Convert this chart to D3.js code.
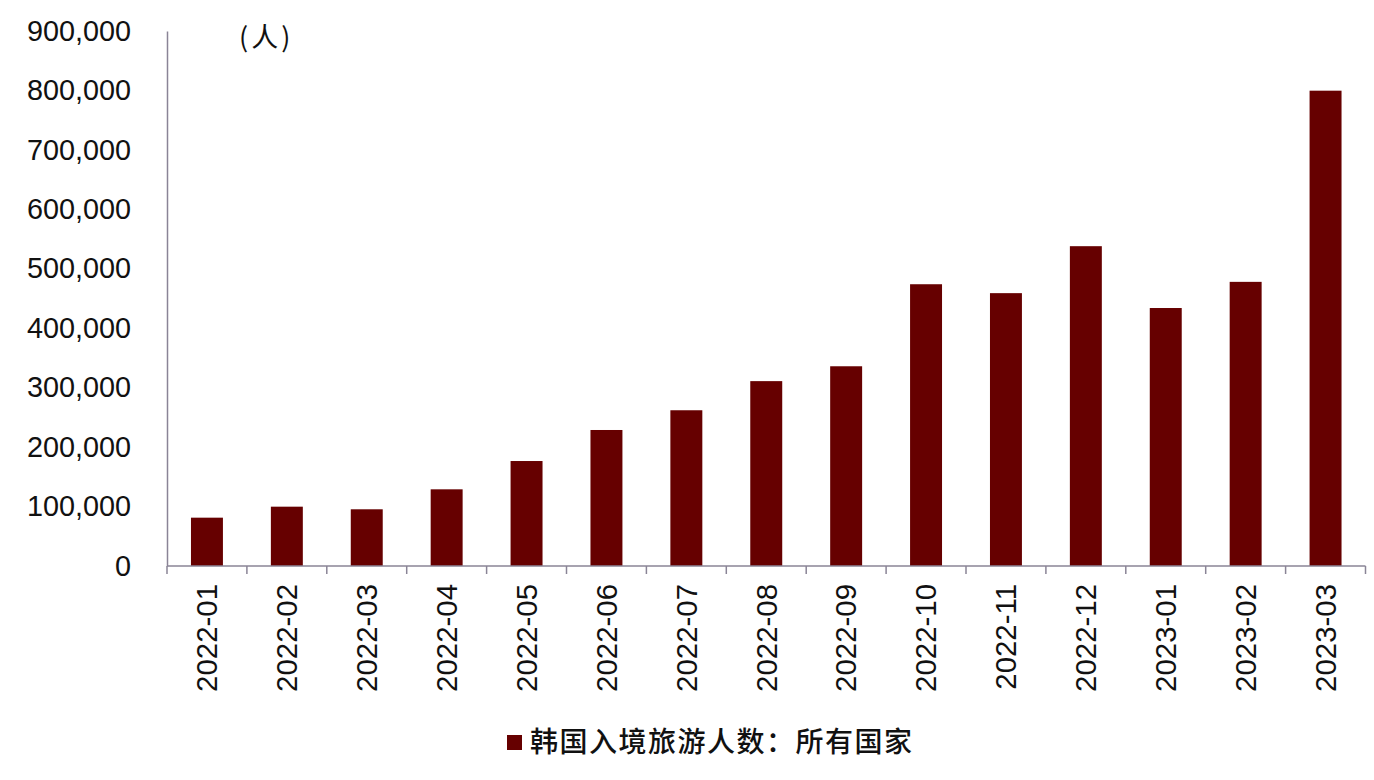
<!DOCTYPE html>
<html><head><meta charset="utf-8">
<script src="https://cdn.jsdelivr.net/npm/d3@7"></script>
<style>body{margin:0;background:#fff;}svg{display:block;}</style>
</head><body>
<svg id="c" width="1374" height="780"></svg>
<script>
const categories = ["2022-01","2022-02","2022-03","2022-04","2022-05","2022-06","2022-07","2022-08","2022-09","2022-10","2022-11","2022-12","2023-01","2023-02","2023-03"];
const visitors = [81300, 99800, 95400, 129000, 176600, 228800, 262000, 311000, 336000, 474000, 459000, 538000, 434000, 478000, 799600];
const yTicks = [0,100000,200000,300000,400000,500000,600000,700000,800000,900000];
const unitLabel = "(人)";
const seriesName = "韩国入境旅游人数：所有国家";

const svg = d3.select("#c");
const x = d3.scaleBand().domain(categories).range([167, 1365.5]).paddingInner(0.6).paddingOuter(0.3);
const y = d3.scaleLinear().domain([0, 900000]).range([566, 31]);
const axisColor = "#8a8496";
const font = "'Liberation Sans', Arial, sans-serif";

svg.append("g").selectAll("rect").data(visitors).join("rect")
  .attr("x", (d,i) => x(categories[i]))
  .attr("width", x.bandwidth())
  .attr("y", d => y(d))
  .attr("height", d => y(0) - y(d))
  .attr("fill", "#660000");

// y axis
const ya = svg.append("g").attr("transform","translate(167,0)")
  .call(d3.axisLeft(y).tickValues(yTicks).tickSize(0).tickPadding(36).tickFormat(d3.format(",")));
ya.select(".domain").attr("stroke", axisColor).attr("stroke-width", 1.5);
ya.selectAll("text").attr("font-family", font).attr("font-size", 28.8).attr("fill","#111");

// x axis
const xa = svg.append("g").attr("transform", "translate(0,566)")
  .call(d3.axisBottom(x).tickSize(0).tickFormat(d => d));
xa.select(".domain").attr("stroke", axisColor).attr("stroke-width", 1.5).attr("d", "M167,0H1365.5");
xa.selectAll("text")
  .attr("font-family", font).attr("font-size", 29.4).attr("fill","#111")
  .attr("transform", "rotate(-90)")
  .attr("text-anchor", "end")
  .attr("x", -18).attr("y", 0).attr("dy", "0.35em");
// tick marks between categories
const boundaries = d3.range(categories.length + 1).map(i => 167 + i * (1365.5 - 167) / categories.length);
xa.append("g").selectAll("line").data(boundaries).join("line")
  .attr("x1", d => d).attr("x2", d => d).attr("y1", 0).attr("y2", 8)
  .attr("stroke", axisColor).attr("stroke-width", 1.5);

// unit label
svg.append("text").attr("x", 239).attr("y", 47).attr("font-family", "'Noto Sans CJK SC', sans-serif")
  .attr("font-size", 27).attr("letter-spacing", 3).attr("fill", "#111").text(unitLabel);

// legend
const lg = svg.append("g");
lg.append("rect").attr("x", 507).attr("y", 735).attr("width", 15).attr("height", 15).attr("fill", "#660000");
lg.append("text").attr("x", 530).attr("y", 752).attr("font-family", "'Noto Sans CJK SC', sans-serif")
  .attr("font-size", 28).attr("font-weight", 500).attr("letter-spacing", 1.5).attr("fill", "#111").text(seriesName);
</script>
</body></html>
